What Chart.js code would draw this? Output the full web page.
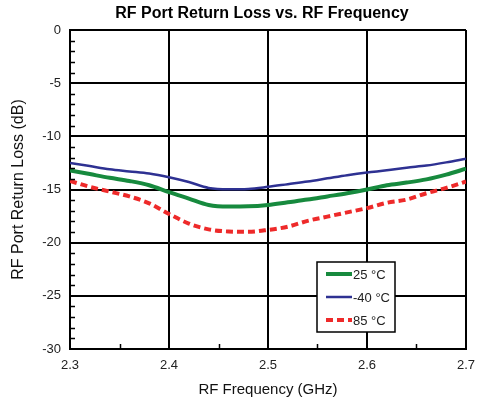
<!DOCTYPE html>
<html>
<head>
<meta charset="utf-8">
<script src="https://cdn.jsdelivr.net/npm/chart.js@4.4.1/dist/chart.umd.min.js"></script>
<style>
  html, body { margin: 0; padding: 0; background: #fff; }
  #wrap { width: 478px; height: 403px; position: relative; }
</style>
</head>
<body>
<div id="wrap"><canvas id="c" width="478" height="403"></canvas></div>
<script>
// Return loss, every 0.02 GHz.
const freqGHz = [2.30, 2.32, 2.34, 2.36, 2.38, 2.40, 2.42, 2.44, 2.46, 2.48, 2.50,
                 2.52, 2.54, 2.56, 2.58, 2.60, 2.62, 2.64, 2.66, 2.68, 2.70];
const rl25 = [-13.2, -13.55, -13.9, -14.2, -14.6, -15.25, -15.85, -16.45, -16.6, -16.58, -16.45,
              -16.2, -15.95, -15.65, -15.35, -15.0, -14.6, -14.35, -14.05, -13.6, -13.05];
const rlMinus40 = [-12.5, -12.8, -13.1, -13.3, -13.5, -13.85, -14.3, -14.85, -14.98, -14.95, -14.75,
                   -14.5, -14.25, -13.95, -13.65, -13.4, -13.2, -12.95, -12.75, -12.45, -12.1];
const rl85 = [-14.2, -14.75, -15.2, -15.65, -16.3, -17.3, -18.2, -18.75, -18.95, -18.98, -18.8,
              -18.5, -17.95, -17.55, -17.15, -16.75, -16.25, -15.95, -15.35, -14.85, -14.25];
const seriesLabels = ['25 °C', '-40 °C', '85 °C'];
const xMinorTicks = [2.35, 2.45, 2.55, 2.65];

const FONT = '"Liberation Sans", Arial, sans-serif';
const GREEN = '#178a3e';
const BLUE = '#2e3192';
const RED = '#ee2a2a';

const pts = (ys) => ys.map((y, i) => ({ x: freqGHz[i], y }));

// Inside minor ticks, title and the boxed legend inside the plot.
const decor = {
  id: 'decor',
  afterDatasetsDraw(chart) {
    const { ctx, chartArea: a, scales: { x, y } } = chart;
    ctx.save();
    ctx.strokeStyle = '#000';
    ctx.lineWidth = 1.5;
    ctx.beginPath();
    for (let v = -29; v < 0; v++) {
      if (v % 5 === 0) continue;
      const py = Math.round(y.getPixelForValue(v)) + 0.5;
      ctx.moveTo(a.left, py); ctx.lineTo(a.left + 5, py);
    }
    for (const v of xMinorTicks) {
      const px = Math.round(x.getPixelForValue(v)) + 0.5;
      ctx.moveTo(px, a.bottom); ctx.lineTo(px, a.bottom - 5);
    }
    ctx.stroke();

    // legend
    const bx = 317, by = 262, bw = 78, bh = 70;
    ctx.fillStyle = '#fff';
    ctx.fillRect(bx, by, bw, bh);
    ctx.lineWidth = 1.5;
    ctx.strokeRect(bx, by, bw, bh);
    const ds = chart.data.datasets;
    ds.forEach((d, i) => {
      const ly = by + 12 + i * 23;
      ctx.beginPath();
      ctx.strokeStyle = d.borderColor;
      ctx.lineWidth = d.borderWidth;
      ctx.setLineDash(d.borderDash || []);
      ctx.moveTo(326, ly); ctx.lineTo(352, ly);
      ctx.stroke();
      ctx.setLineDash([]);
      ctx.fillStyle = '#222';
      ctx.font = '13px ' + FONT;
      ctx.textBaseline = 'middle';
      ctx.textAlign = 'left';
      ctx.fillText(d.label, 353, ly + 1);
    });

    ctx.fillStyle = '#000';
    ctx.font = 'bold 16px ' + FONT;
    ctx.textAlign = 'center';
    ctx.textBaseline = 'middle';
    ctx.fillText('RF Port Return Loss vs. RF Frequency', 262, 14);
    ctx.restore();
  }
};

new Chart(document.getElementById('c'), {
  type: 'line',
  data: {
    datasets: [
      { label: seriesLabels[0], data: pts(rl25), borderColor: GREEN, borderWidth: 4 },
      { label: seriesLabels[1], data: pts(rlMinus40), borderColor: BLUE, borderWidth: 2.5 },
      { label: seriesLabels[2], data: pts(rl85), borderColor: RED, borderWidth: 4, borderDash: [7, 4] },
    ],
  },
  options: {
    responsive: false,
    animation: false,
    layout: { padding: { top: 30, right: 12, left: 0, bottom: 0 } },
    elements: { point: { radius: 0 }, line: { tension: 0.3, cubicInterpolationMode: 'monotone' } },
    plugins: { legend: { display: false }, title: { display: false }, tooltip: { enabled: false } },
    scales: {
      x: {
        type: 'linear', min: 2.3, max: 2.7,
        afterFit: (s) => { s.height = 54; s.paddingLeft = 0; s.paddingRight = 0; },
        border: { color: '#000', width: 2 },
        grid: { color: '#000', lineWidth: 2, drawTicks: false },
        ticks: { stepSize: 0.1, padding: 9, color: '#222', font: { family: FONT, size: 13 },
                 callback: (v) => v.toFixed(1) },
        title: { display: true, text: 'RF Frequency (GHz)', color: '#111',
                 font: { family: FONT, size: 15 }, padding: { top: 2, bottom: 4 } },
      },
      y: {
        min: -30, max: 0,
        afterFit: (s) => { s.width = 70; },
        border: { color: '#000', width: 2 },
        grid: { color: '#000', lineWidth: 2, drawTicks: false },
        ticks: { stepSize: 5, padding: 9, color: '#222', font: { family: FONT, size: 13 } },
        title: { display: true, text: 'RF Port Return Loss (dB)', color: '#111',
                 font: { family: FONT, size: 16 }, padding: { top: 9, bottom: 2 } },
      },
    },
  },
  plugins: [decor],
});
</script>
</body>
</html>
